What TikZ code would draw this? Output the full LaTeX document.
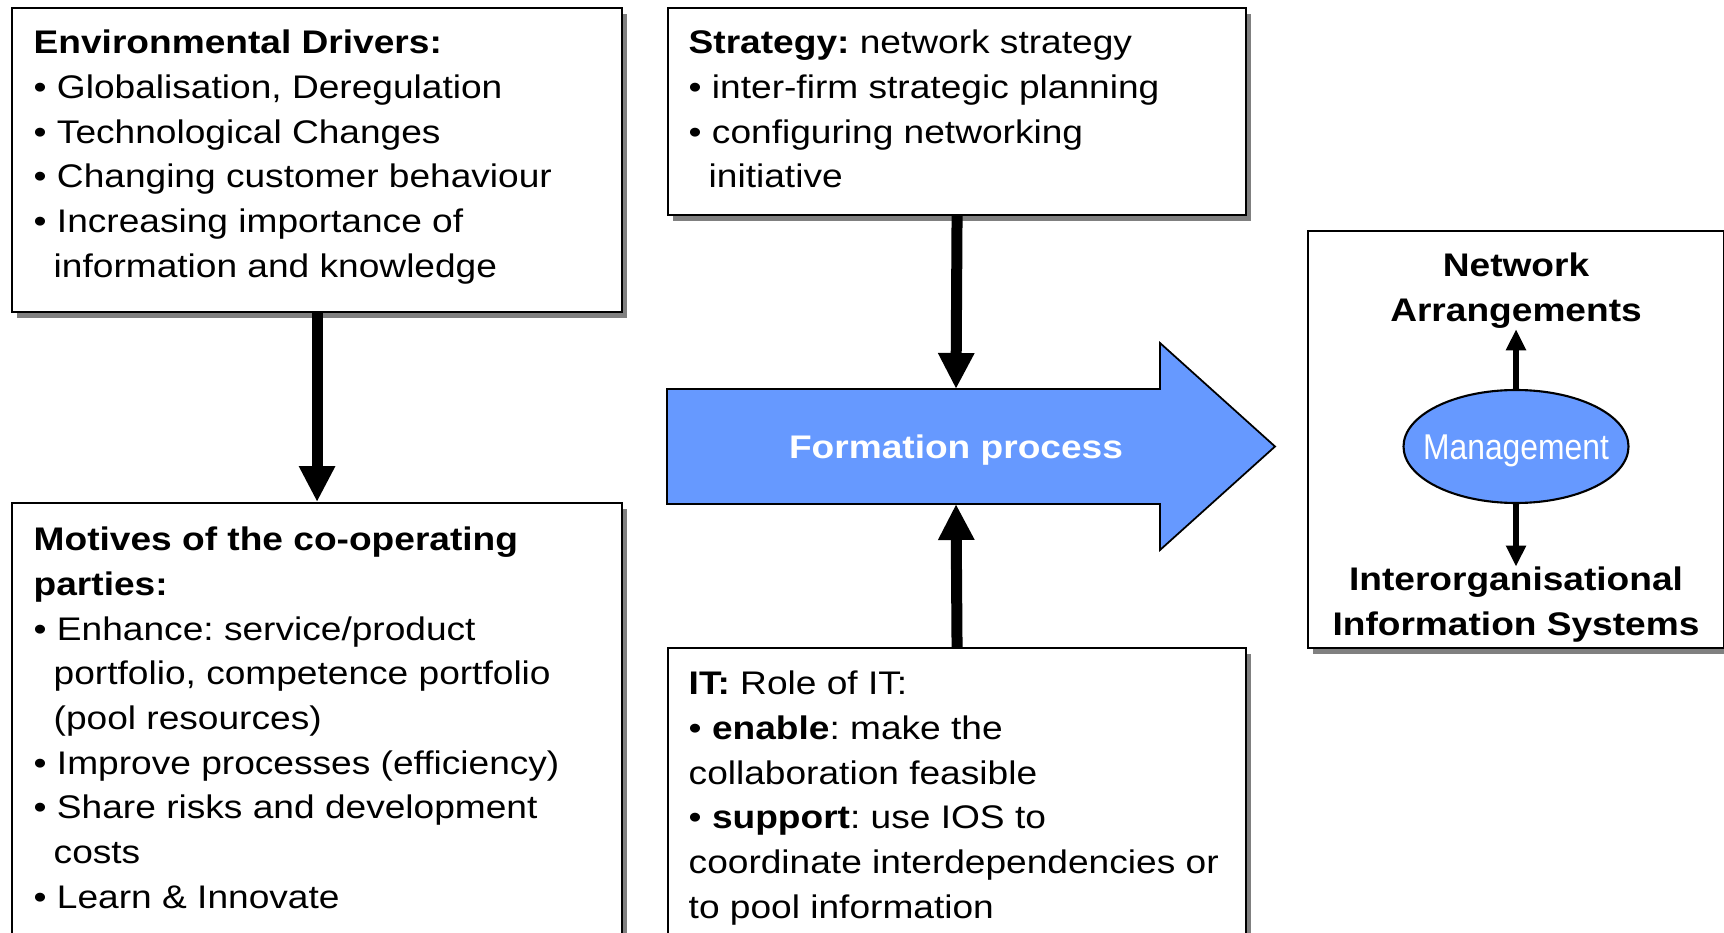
\documentclass[tikz,border=0pt]{standalone}
\usepackage{fontspec}
\setmainfont{Liberation Sans}[FakeStretch=1.135]
\newfontfamily\narrowfont{Liberation Sans}[FakeStretch=0.888]
\usetikzlibrary{arrows.meta,shadows,shapes.geometric,calc,positioning}
\definecolor{flowblue}{RGB}{102,153,255}
\frenchspacing
\newcommand{\boxfont}{\fontsize{9.3}{12.7}\selectfont}
\tikzset{
  panel/.style={draw, line width=0.6pt, fill=white, anchor=north west, inner sep=0pt,
    drop shadow={shadow xshift=0.05cm, shadow yshift=-0.055cm, fill=black!50, opacity=1}},
  paneltext/.style={anchor=north west, align=left, inner sep=0pt},
  heading/.style={anchor=north, align=center, inner sep=0pt, font=\boxfont\bfseries},
  bigarrow/.style={line width=1.1mm, -{Triangle[width=3.4mm,length=3.6mm]}},
  smallarrow/.style={line width=0.55mm, -{Triangle[width=1.9mm,length=2.1mm]}},
}
\newcommand{\cont}{\hspace*{0.20cm}}
\begin{document}
\begin{tikzpicture}[font=\boxfont]
\clip (0,0) rectangle (17.24,-9.33);
% boxes
\node[panel, minimum width=6.10cm, minimum height=3.04cm] (drivers) at (0.11,-0.07) {};
\node[panel, minimum width=6.10cm, minimum height=4.60cm] (motives) at (0.11,-5.02) {};
\node[panel, minimum width=5.78cm, minimum height=2.07cm] (strategy) at (6.67,-0.07) {};
\node[panel, minimum width=5.78cm, minimum height=3.10cm] (it) at (6.67,-6.47) {};
\node[panel, minimum width=4.16cm, minimum height=4.17cm] (network) at (13.07,-2.30) {};
% texts of the boxes
\node[paneltext] (driverstxt) at (0.33,-0.296) {\textbf{Environmental Drivers:}\\
  \textbullet\ Globalisation, Deregulation\\
  \textbullet\ Technological Changes\\
  \textbullet\ Changing customer behaviour\\
  \textbullet\ Increasing importance of\\
  \cont information and knowledge};
\node[paneltext] (motivestxt) at (0.33,-5.266) {\textbf{Motives of the co-operating}\\
  \textbf{parties:}\\
  \textbullet\ Enhance: service/product\\
  \cont portfolio, competence portfolio\\
  \cont (pool resources)\\
  \textbullet\ Improve processes (efficiency)\\
  \textbullet\ Share risks and development\\
  \cont costs\\
  \textbullet\ Learn \& Innovate};
\node[paneltext] (strategytxt) at (6.88,-0.296) {\textbf{Strategy:} network strategy\\
  \textbullet\ inter-firm strategic planning\\
  \textbullet\ configuring networking\\
  \cont initiative};
\node[paneltext] (ittxt) at (6.88,-6.706) {\textbf{IT:} Role of IT:\\
  \textbullet\ \textbf{enable}: make the\\
  collaboration feasible\\
  \textbullet\ \textbf{support}: use IOS to\\
  coordinate interdependencies or\\
  to pool information};
% formation process arrow
\draw[fill=flowblue, line width=0.5pt] (6.67,-3.89) -- (11.60,-3.89) -- (11.60,-3.43) -- (12.75,-4.465)
  -- (11.60,-5.50) -- (11.60,-5.04) -- (6.67,-5.04) -- cycle;
\node[inner sep=0pt, anchor=base, text=white, font=\boxfont\bfseries] (formation) at (9.56,-4.585) {Formation process};
\coordinate (fptop) at (9.56,-3.89);
\coordinate (fpbottom) at (9.56,-5.04);
% network arrangements
\node[heading] (netarr) at (15.16,-2.526) {Network\\Arrangements};
\node[draw, fill=flowblue, ellipse, line width=0.6pt, minimum width=2.25cm, minimum height=1.13cm,
  inner sep=0pt, text height=2.6mm, text depth=0pt, text=white,
  font=\narrowfont\fontsize{10.2}{12}\selectfont] (mgmt) at (15.16,-4.465) {\makebox[0pt]{Management}};
\node[heading] (ios) at (15.16,-5.666) {Interorganisational\\Information Systems};
% connectors
\draw[bigarrow] (drivers.south) -- (motives.north);
\draw[bigarrow] (strategy.south) -- (fptop);
\draw[bigarrow] (it.north) -- (fpbottom);
\draw[smallarrow] (mgmt.north) -- (netarr.south);
\draw[smallarrow] (mgmt.south) -- (ios.north);
\end{tikzpicture}
\end{document}
